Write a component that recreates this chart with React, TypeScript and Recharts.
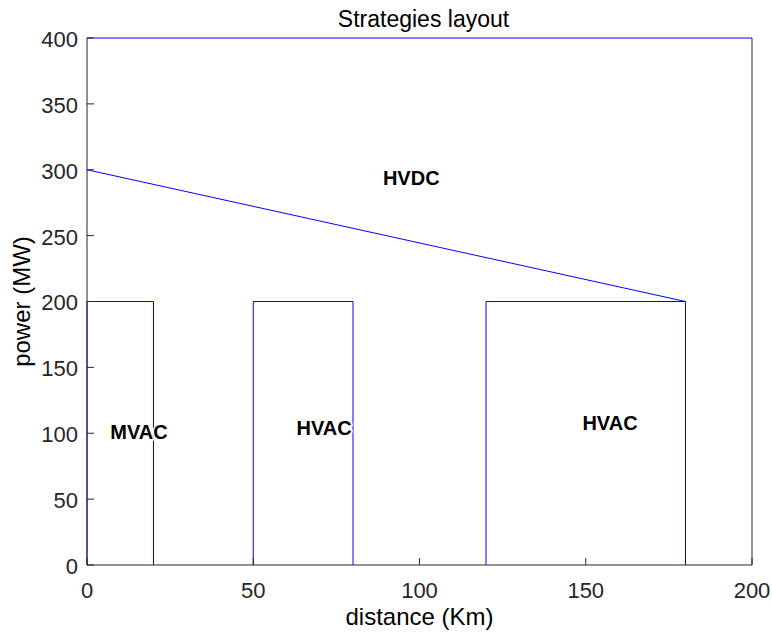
import { ComposedChart, Line, XAxis, YAxis, Scatter } from "recharts";

const xTicks = [0, 50, 100, 150, 200];
const yTicks = [0, 50, 100, 150, 200, 250, 300, 350, 400];

// rectangular AC zones: start/end distance and power limit
const zoneStart = [0, 50, 120];
const zoneEnd = [20, 80, 180];
const zoneLimit = [200, 200, 200];

// sloped HVDC boundary
const hvdcDistance = [0, 180];
const hvdcPower = [300, 200];

// upper limit
const ceilingDistance = [0, 200];
const ceilingPower = [400, 400];

const labelNames = ["HVDC", "MVAC", "HVAC", "HVAC"];
const labelDistance = [89, 7, 63, 149];
const labelPower = [294, 101, 104, 108];

const font = "'Liberation Sans', Arial, Helvetica, sans-serif";
const axisColor = "#262626";
const lineColor = "#0000ff";

const zones = zoneStart.map((s, i) => [
  { x: s, y: 0 },
  { x: s, y: zoneLimit[i] },
  { x: zoneEnd[i], y: zoneLimit[i] },
  { x: zoneEnd[i], y: 0 },
]);
const hvdc = hvdcDistance.map((x, i) => ({ x, y: hvdcPower[i] }));
const ceiling = ceilingDistance.map((x, i) => ({ x, y: ceilingPower[i] }));
const labels = labelNames.map((name, i) => ({ name, x: labelDistance[i], y: labelPower[i] }));

const TICK = 7;
const tickText = { fill: axisColor, fontSize: 22, fontFamily: font };

// matlab style ticks, pointing into the box
function BottomTick(props: any) {
  const { x, y, payload } = props;
  const axisY = y - 17;
  return (
    <g>
      <line x1={x} y1={axisY} x2={x} y2={axisY - TICK} stroke={axisColor} />
      <text x={x} y={y} dy="0.71em" textAnchor="middle" {...tickText}>{payload.value}</text>
    </g>
  );
}
function TopTick(props: any) {
  const { x, y } = props;
  return <line x1={x} y1={y + 2} x2={x} y2={y + 2 + TICK} stroke={axisColor} />;
}
function LeftTick(props: any) {
  const { x, y, payload } = props;
  const axisX = x + 9;
  return (
    <g>
      <line x1={axisX} y1={y} x2={axisX + TICK} y2={y} stroke={axisColor} />
      <text x={x} y={y + 1} dy="0.36em" textAnchor="end" {...tickText}>{payload.value}</text>
    </g>
  );
}
function RightTick(props: any) {
  const { x, y } = props;
  return <line x1={x - 2} y1={y} x2={x - 2 - TICK} y2={y} stroke={axisColor} />;
}

function RegionLabel(props: any) {
  const { cx, cy, payload } = props;
  return (
    <text
      x={cx}
      y={cy}
      dominantBaseline="central"
      textAnchor="start"
      fontFamily={font}
      fontSize={20}
      fontWeight="bold"
      fill="#000"
      stroke="#fff"
      strokeWidth={3}
      style={{ paintOrder: "stroke" }}
    >
      {payload.name}
    </text>
  );
}

export default function App() {
  return (
    <div style={{ position: "absolute", left: 0, top: 0, width: 772, height: 634, background: "#fff" }}>
      <div
        style={{
          position: "absolute",
          left: 91,
          width: 665,
          top: 8,
          textAlign: "center",
          fontFamily: font,
          fontSize: 23,
          lineHeight: "23px",
          color: "#000",
        }}
      >
        Strategies layout
      </div>
      <ComposedChart width={772} height={634} margin={{ top: 38, right: 19, bottom: 0, left: 0 }}>
        <XAxis
          dataKey="x"
          type="number"
          domain={[0, 200]}
          ticks={xTicks}
          interval={0}
          height={69}
          stroke={axisColor}
          tickLine={false}
          tickSize={0}
          tickMargin={17}
          tick={BottomTick}
          label={{ value: "distance (Km)", position: "insideBottom", offset: 9, fill: "#000", fontSize: 24, fontFamily: font }}
        />
        <XAxis
          xAxisId="top"
          orientation="top"
          type="number"
          domain={[0, 200]}
          ticks={xTicks}
          interval={0}
          height={0}
          stroke={axisColor}
          tickLine={false}
          tickSize={0}
          tickMargin={2}
          tick={TopTick}
        />
        <YAxis
          type="number"
          domain={[0, 400]}
          ticks={yTicks}
          interval={0}
          width={87}
          stroke={axisColor}
          tickLine={false}
          tickSize={0}
          tickMargin={9}
          tick={LeftTick}
          label={{
            value: "power (MW)",
            angle: -90,
            position: "insideLeft",
            offset: 21,
            fill: "#000",
            fontSize: 24,
            fontFamily: font,
            style: { textAnchor: "middle" },
          }}
        />
        <YAxis
          yAxisId="right"
          orientation="right"
          type="number"
          domain={[0, 400]}
          ticks={yTicks}
          interval={0}
          width={1}
          stroke={axisColor}
          tickLine={false}
          tickSize={0}
          tickMargin={2}
          tick={RightTick}
        />
        <Line data={ceiling} dataKey="y" name="ceiling" type="linear" stroke={lineColor} strokeWidth={1} dot={false} activeDot={false} isAnimationActive={false} />
        <Line data={hvdc} dataKey="y" name="hvdc" type="linear" stroke={lineColor} strokeWidth={1} dot={false} activeDot={false} isAnimationActive={false} />
        {zones.map((z, i) => (
          <Line
            key={"zone" + i}
            name={"zone" + i}
            data={z}
            dataKey="y"
            type="linear"
            stroke={lineColor}
            strokeWidth={1}
            dot={false}
            activeDot={false}
            isAnimationActive={false}
          />
        ))}
        <Scatter data={labels} dataKey="y" shape={RegionLabel} isAnimationActive={false} />
      </ComposedChart>
    </div>
  );
}
